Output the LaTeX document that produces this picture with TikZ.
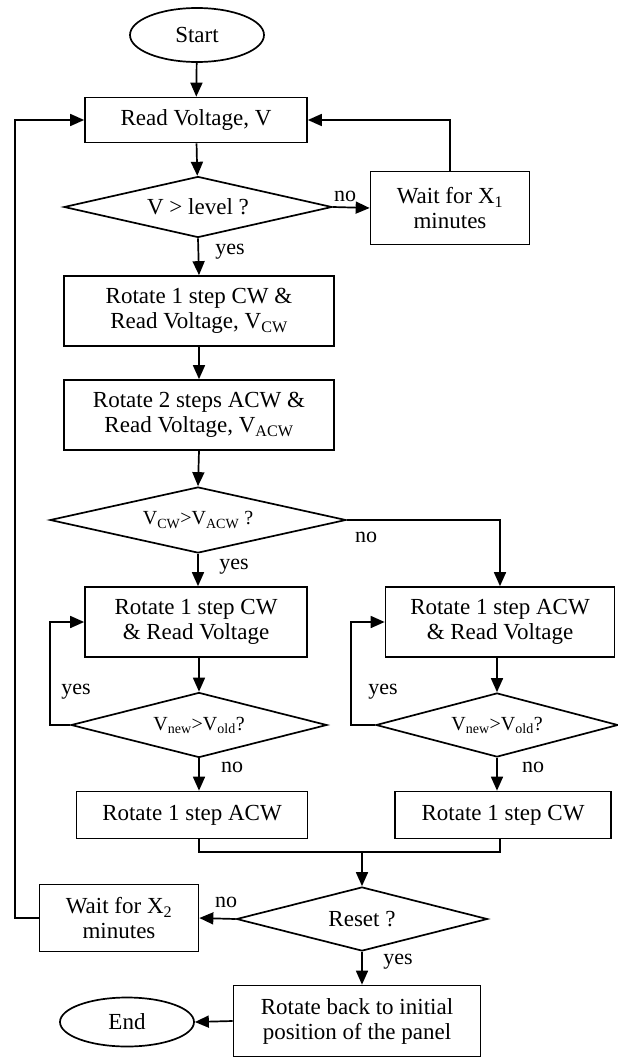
\documentclass[tikz,border=0pt]{standalone}
\usepackage{fontspec}
\setmainfont{Liberation Serif}
\usetikzlibrary{shapes.geometric,arrows.meta}
\begin{document}
\begin{tikzpicture}[x=1pt,y=-1pt,line width=1.7pt,
  every node/.style={font=\fontsize{23}{25}\selectfont,inner sep=0pt},
  box/.style={draw,rectangle,align=center},
  dec/.style={draw,diamond,align=center,shape aspect=4,font=\fontsize{20}{22}\selectfont},
  term/.style={draw,ellipse},
  arr/.style={-{Triangle[length=14pt,width=12pt]}},
  lbl/.style={font=\fontsize{22}{24}\selectfont}]
\useasboundingbox (0,0) rectangle (618,1057);
% nodes
\node[term,minimum width=134pt,minimum height=54pt] (start) at (197,35) {Start};
\node[box,minimum width=222pt,minimum height=45pt] (read) at (196,120) {Read Voltage, V};
\node[dec,minimum width=268pt,minimum height=61pt,font=\fontsize{23}{25}\selectfont] (d1) at (198,207) {V > level ?};
\node[box,minimum width=159pt,minimum height=73pt] (wait1) at (450,208) {Wait for X\textsubscript{1}\\minutes};
\node[box,minimum width=270pt,minimum height=70pt] (rot1) at (199,311) {Rotate 1 step CW \&\\Read Voltage, V\textsubscript{CW}};
\node[box,minimum width=270pt,minimum height=70pt] (rot2) at (199,415) {Rotate 2 steps ACW \&\\Read Voltage, V\textsubscript{ACW}};
\node[dec,minimum width=296pt,minimum height=66pt] (d2) at (198,520) {V\textsubscript{CW}>V\textsubscript{ACW} ?};
\node[box,minimum width=222pt,minimum height=70pt] (box3) at (196,622) {Rotate 1 step CW\\\& Read Voltage};
\node[box,minimum width=229pt,minimum height=70pt] (box4) at (500,622) {Rotate 1 step ACW\\\& Read Voltage};
\node[dec,minimum width=256pt,minimum height=65pt] (d3) at (199,725) {V\textsubscript{new}>V\textsubscript{old}?};
\node[dec,minimum width=242pt,minimum height=64pt] (d4) at (497,725) {V\textsubscript{new}>V\textsubscript{old}?};
\node[box,minimum width=231pt,minimum height=47pt] (box5) at (192,815) {Rotate 1 step ACW};
\node[box,minimum width=216pt,minimum height=47pt] (box6) at (503,815) {Rotate 1 step CW};
\node[dec,minimum width=251pt,minimum height=64pt,font=\fontsize{23}{25}\selectfont] (reset) at (362,919) {Reset ?};
\node[box,minimum width=159pt,minimum height=67pt] (wait2) at (119,918) {Wait for X\textsubscript{2}\\minutes};
\node[box,minimum width=247pt,minimum height=71pt] (back) at (357,1021) {Rotate back to initial\\position of the panel};
\node[term,minimum width=134pt,minimum height=49pt] (end) at (127,1022) {End};
% labels
\node[lbl] (no1) at (345,196) {no};
\node[lbl] (yes1) at (230,252) {yes};
\node[lbl] (no2) at (366,537) {no};
\node[lbl] (yes2) at (234,567) {yes};
\node[lbl] (yes3) at (76,692) {yes};
\node[lbl] (yes4) at (383,692) {yes};
\node[lbl] (no3) at (232,767) {no};
\node[lbl] (no4) at (533,767) {no};
\node[lbl] (no5) at (226,902) {no};
\node[lbl] (yes5) at (398,962) {yes};
% helper coordinates
\coordinate (l3) at (50,725);
\coordinate (l4) at (351,725);
\coordinate (lm) at (15,918);
\coordinate (mL) at (199,852);
\coordinate (mR) at (500,852);
\coordinate (mC) at (362,852);
% connectors
\draw[arr] (start) -- (read);
\draw[arr] (read) -- (d1);
\draw[arr] (d1.east) -- (wait1.west);
\draw[arr] (wait1.north) |- (read.east);
\draw[arr] (d1.south) -- (rot1.north);
\draw[arr] (rot1) -- (rot2);
\draw[arr] (rot2.south) -- (d2.north);
\draw[arr] (d2.south) -- (box3.north -| d2.south);
\draw[arr] (d2.east) -| (box4.north);
\draw[arr] (box3.south -| d3.north) -- (d3.north);
\draw[arr] (box4.south -| d4.north) -- (d4.north);
\draw[arr] (d3.south) -- (box5.north -| d3.south);
\draw[arr] (d4.south) -- (box6.north -| d4.south);
\draw[arr] (d3.west) -- (l3) |- (box3.west);
\draw[arr] (d4.west) -- (l4) |- (box4.west);
\draw (box5.south -| mL) -- (mL) -- (mR) -- (box6.south -| mR);
\draw[arr] (mC) -- (reset.north);
\draw[arr] (reset.west) -- (wait2.east);
\draw[arr] (wait2.west) -- (lm) |- (read.west);
\draw[arr] (reset.south) -- (back.north -| reset.south);
\draw[arr] (back.west) -- (end.east);
\end{tikzpicture}
\end{document}
